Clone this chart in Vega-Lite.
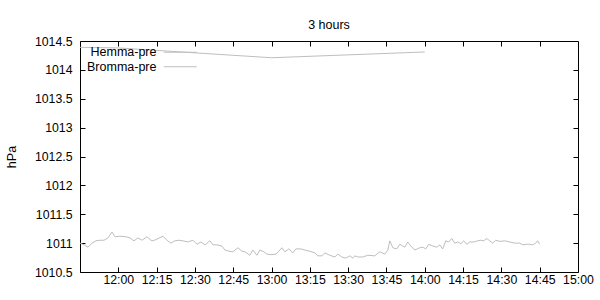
{
  "$schema": "https://vega.github.io/schema/vega-lite/v6.json",
  "width": 498,
  "height": 231,
  "autosize": "none",
  "padding": {"left": 80, "top": 41, "right": 22, "bottom": 28},
  "title": {"text": "3 hours", "fontSize": 12.5, "fontWeight": "normal", "color": "black", "font": "Liberation Sans", "anchor": "middle", "baseline": "alphabetic", "offset": -6},
  "config": {
    "font": "Liberation Sans",
    "view": {"stroke": "black", "strokeWidth": 1},
    "axis": {"domain": false, "grid": false, "tickColor": "black", "tickSize": -5, "tickWidth": 1, "labelFontSize": 12.3, "labelColor": "black", "labelFont": "Liberation Sans", "titleFontSize": 12.5, "titleFontWeight": "normal", "titleColor": "black", "titleFont": "Liberation Sans"}
  },
  "data": {
    "format": {"parse": {"t": "date:'%H:%M:%S'"}},
    "values": [
      {"s": "Hemma-pre", "t": "11:45:00", "v": 1014.39},
      {"s": "Hemma-pre", "t": "12:00:00", "v": 1014.38},
      {"s": "Hemma-pre", "t": "13:00:00", "v": 1014.21},
      {"s": "Hemma-pre", "t": "14:00:00", "v": 1014.31},
      {"s": "Bromma-pre", "t": "11:45:00", "v": 1011.00},
      {"s": "Bromma-pre", "t": "11:46:34", "v": 1010.97},
      {"s": "Bromma-pre", "t": "11:48:08", "v": 1010.93},
      {"s": "Bromma-pre", "t": "11:49:42", "v": 1011.00},
      {"s": "Bromma-pre", "t": "11:51:16", "v": 1011.04},
      {"s": "Bromma-pre", "t": "11:52:50", "v": 1011.05},
      {"s": "Bromma-pre", "t": "11:54:23", "v": 1011.05},
      {"s": "Bromma-pre", "t": "11:55:57", "v": 1011.09},
      {"s": "Bromma-pre", "t": "11:57:31", "v": 1011.19},
      {"s": "Bromma-pre", "t": "11:58:42", "v": 1011.11},
      {"s": "Bromma-pre", "t": "12:00:39", "v": 1011.12},
      {"s": "Bromma-pre", "t": "12:03:00", "v": 1011.11},
      {"s": "Bromma-pre", "t": "12:04:34", "v": 1011.09},
      {"s": "Bromma-pre", "t": "12:06:08", "v": 1011.04},
      {"s": "Bromma-pre", "t": "12:07:42", "v": 1011.09},
      {"s": "Bromma-pre", "t": "12:09:16", "v": 1011.05},
      {"s": "Bromma-pre", "t": "12:11:13", "v": 1011.11},
      {"s": "Bromma-pre", "t": "12:12:47", "v": 1011.05},
      {"s": "Bromma-pre", "t": "12:13:34", "v": 1011.04},
      {"s": "Bromma-pre", "t": "12:15:08", "v": 1011.07},
      {"s": "Bromma-pre", "t": "12:17:29", "v": 1011.12},
      {"s": "Bromma-pre", "t": "12:19:03", "v": 1011.05},
      {"s": "Bromma-pre", "t": "12:20:37", "v": 1011.00},
      {"s": "Bromma-pre", "t": "12:22:10", "v": 1011.04},
      {"s": "Bromma-pre", "t": "12:23:44", "v": 1011.05},
      {"s": "Bromma-pre", "t": "12:25:18", "v": 1011.04},
      {"s": "Bromma-pre", "t": "12:27:16", "v": 1011.02},
      {"s": "Bromma-pre", "t": "12:29:13", "v": 1011.05},
      {"s": "Bromma-pre", "t": "12:30:47", "v": 1010.98},
      {"s": "Bromma-pre", "t": "12:32:21", "v": 1011.02},
      {"s": "Bromma-pre", "t": "12:33:55", "v": 1010.97},
      {"s": "Bromma-pre", "t": "12:35:52", "v": 1011.04},
      {"s": "Bromma-pre", "t": "12:37:03", "v": 1010.97},
      {"s": "Bromma-pre", "t": "12:38:37", "v": 1010.97},
      {"s": "Bromma-pre", "t": "12:40:34", "v": 1010.95},
      {"s": "Bromma-pre", "t": "12:41:45", "v": 1010.88},
      {"s": "Bromma-pre", "t": "12:43:18", "v": 1010.86},
      {"s": "Bromma-pre", "t": "12:44:52", "v": 1010.85},
      {"s": "Bromma-pre", "t": "12:46:50", "v": 1010.92},
      {"s": "Bromma-pre", "t": "12:48:24", "v": 1010.86},
      {"s": "Bromma-pre", "t": "12:49:34", "v": 1010.85},
      {"s": "Bromma-pre", "t": "12:51:31", "v": 1010.79},
      {"s": "Bromma-pre", "t": "12:52:42", "v": 1010.88},
      {"s": "Bromma-pre", "t": "12:54:16", "v": 1010.79},
      {"s": "Bromma-pre", "t": "12:55:26", "v": 1010.88},
      {"s": "Bromma-pre", "t": "12:57:00", "v": 1010.85},
      {"s": "Bromma-pre", "t": "12:58:11", "v": 1010.81},
      {"s": "Bromma-pre", "t": "12:59:45", "v": 1010.80},
      {"s": "Bromma-pre", "t": "13:01:42", "v": 1010.81},
      {"s": "Bromma-pre", "t": "13:02:52", "v": 1010.86},
      {"s": "Bromma-pre", "t": "13:04:03", "v": 1010.92},
      {"s": "Bromma-pre", "t": "13:05:13", "v": 1010.85},
      {"s": "Bromma-pre", "t": "13:06:47", "v": 1010.90},
      {"s": "Bromma-pre", "t": "13:08:21", "v": 1010.83},
      {"s": "Bromma-pre", "t": "13:09:31", "v": 1010.90},
      {"s": "Bromma-pre", "t": "13:11:29", "v": 1010.90},
      {"s": "Bromma-pre", "t": "13:13:03", "v": 1010.88},
      {"s": "Bromma-pre", "t": "13:15:00", "v": 1010.86},
      {"s": "Bromma-pre", "t": "13:16:58", "v": 1010.83},
      {"s": "Bromma-pre", "t": "13:18:08", "v": 1010.78},
      {"s": "Bromma-pre", "t": "13:19:42", "v": 1010.78},
      {"s": "Bromma-pre", "t": "13:20:52", "v": 1010.83},
      {"s": "Bromma-pre", "t": "13:22:50", "v": 1010.79},
      {"s": "Bromma-pre", "t": "13:24:47", "v": 1010.76},
      {"s": "Bromma-pre", "t": "13:25:58", "v": 1010.81},
      {"s": "Bromma-pre", "t": "13:27:31", "v": 1010.76},
      {"s": "Bromma-pre", "t": "13:29:05", "v": 1010.74},
      {"s": "Bromma-pre", "t": "13:30:39", "v": 1010.78},
      {"s": "Bromma-pre", "t": "13:31:50", "v": 1010.74},
      {"s": "Bromma-pre", "t": "13:32:37", "v": 1010.78},
      {"s": "Bromma-pre", "t": "13:33:47", "v": 1010.76},
      {"s": "Bromma-pre", "t": "13:35:44", "v": 1010.76},
      {"s": "Bromma-pre", "t": "13:37:42", "v": 1010.79},
      {"s": "Bromma-pre", "t": "13:40:26", "v": 1010.78},
      {"s": "Bromma-pre", "t": "13:42:23", "v": 1010.85},
      {"s": "Bromma-pre", "t": "13:44:21", "v": 1010.81},
      {"s": "Bromma-pre", "t": "13:45:31", "v": 1010.88},
      {"s": "Bromma-pre", "t": "13:46:19", "v": 1011.04},
      {"s": "Bromma-pre", "t": "13:47:29", "v": 1010.92},
      {"s": "Bromma-pre", "t": "13:49:03", "v": 1010.90},
      {"s": "Bromma-pre", "t": "13:50:13", "v": 1010.98},
      {"s": "Bromma-pre", "t": "13:51:23", "v": 1010.95},
      {"s": "Bromma-pre", "t": "13:52:11", "v": 1010.93},
      {"s": "Bromma-pre", "t": "13:53:21", "v": 1011.02},
      {"s": "Bromma-pre", "t": "13:54:31", "v": 1010.95},
      {"s": "Bromma-pre", "t": "13:56:05", "v": 1010.88},
      {"s": "Bromma-pre", "t": "13:58:03", "v": 1010.92},
      {"s": "Bromma-pre", "t": "13:59:13", "v": 1010.93},
      {"s": "Bromma-pre", "t": "14:00:23", "v": 1010.90},
      {"s": "Bromma-pre", "t": "14:01:34", "v": 1010.98},
      {"s": "Bromma-pre", "t": "14:03:08", "v": 1010.95},
      {"s": "Bromma-pre", "t": "14:04:42", "v": 1010.93},
      {"s": "Bromma-pre", "t": "14:05:52", "v": 1010.97},
      {"s": "Bromma-pre", "t": "14:07:03", "v": 1010.90},
      {"s": "Bromma-pre", "t": "14:08:13", "v": 1011.04},
      {"s": "Bromma-pre", "t": "14:09:23", "v": 1011.02},
      {"s": "Bromma-pre", "t": "14:10:34", "v": 1011.08},
      {"s": "Bromma-pre", "t": "14:11:44", "v": 1011.00},
      {"s": "Bromma-pre", "t": "14:12:55", "v": 1011.02},
      {"s": "Bromma-pre", "t": "14:14:05", "v": 1010.99},
      {"s": "Bromma-pre", "t": "14:15:16", "v": 1011.04},
      {"s": "Bromma-pre", "t": "14:16:26", "v": 1010.98},
      {"s": "Bromma-pre", "t": "14:17:37", "v": 1011.02},
      {"s": "Bromma-pre", "t": "14:19:11", "v": 1011.02},
      {"s": "Bromma-pre", "t": "14:20:44", "v": 1011.04},
      {"s": "Bromma-pre", "t": "14:21:55", "v": 1011.05},
      {"s": "Bromma-pre", "t": "14:23:05", "v": 1011.04},
      {"s": "Bromma-pre", "t": "14:24:16", "v": 1011.08},
      {"s": "Bromma-pre", "t": "14:25:26", "v": 1011.04},
      {"s": "Bromma-pre", "t": "14:26:37", "v": 1011.00},
      {"s": "Bromma-pre", "t": "14:27:47", "v": 1011.05},
      {"s": "Bromma-pre", "t": "14:29:21", "v": 1011.03},
      {"s": "Bromma-pre", "t": "14:31:18", "v": 1011.04},
      {"s": "Bromma-pre", "t": "14:33:16", "v": 1011.02},
      {"s": "Bromma-pre", "t": "14:35:13", "v": 1011.00},
      {"s": "Bromma-pre", "t": "14:37:11", "v": 1011.00},
      {"s": "Bromma-pre", "t": "14:38:21", "v": 1010.97},
      {"s": "Bromma-pre", "t": "14:39:55", "v": 1010.98},
      {"s": "Bromma-pre", "t": "14:41:05", "v": 1010.98},
      {"s": "Bromma-pre", "t": "14:42:16", "v": 1010.97},
      {"s": "Bromma-pre", "t": "14:43:26", "v": 1011.00},
      {"s": "Bromma-pre", "t": "14:44:13", "v": 1011.04},
      {"s": "Bromma-pre", "t": "14:45:00", "v": 1010.98}
    ]
  },
  "layer": [
    {
      "mark": {"type": "line", "strokeWidth": 1, "clip": true},
      "encoding": {
        "x": {
          "field": "t", "type": "temporal",
          "scale": {"domain": [{"year": 1900, "month": 1, "date": 1, "hours": 11, "minutes": 45}, {"year": 1900, "month": 1, "date": 1, "hours": 15, "minutes": 0}]},
          "axis": {
            "orient": "bottom", "title": null, "format": "%H:%M", "labelPadding": 6, "labelFlush": false, "labelOverlap": false,
            "values": [
              {"year": 1900, "month": 1, "date": 1, "hours": 12, "minutes": 0},
              {"year": 1900, "month": 1, "date": 1, "hours": 12, "minutes": 15},
              {"year": 1900, "month": 1, "date": 1, "hours": 12, "minutes": 30},
              {"year": 1900, "month": 1, "date": 1, "hours": 12, "minutes": 45},
              {"year": 1900, "month": 1, "date": 1, "hours": 13, "minutes": 0},
              {"year": 1900, "month": 1, "date": 1, "hours": 13, "minutes": 15},
              {"year": 1900, "month": 1, "date": 1, "hours": 13, "minutes": 30},
              {"year": 1900, "month": 1, "date": 1, "hours": 13, "minutes": 45},
              {"year": 1900, "month": 1, "date": 1, "hours": 14, "minutes": 0},
              {"year": 1900, "month": 1, "date": 1, "hours": 14, "minutes": 15},
              {"year": 1900, "month": 1, "date": 1, "hours": 14, "minutes": 30},
              {"year": 1900, "month": 1, "date": 1, "hours": 14, "minutes": 45},
              {"year": 1900, "month": 1, "date": 1, "hours": 15, "minutes": 0}
            ]
          }
        },
        "y": {
          "field": "v", "type": "quantitative",
          "scale": {"domain": [1010.5, 1014.5], "nice": false, "zero": false},
          "axis": {"orient": "left", "title": "hPa", "titlePadding": 16, "format": "~g", "labelPadding": 13, "labelFlush": false, "labelOverlap": false,
            "values": [1010.5, 1011, 1011.5, 1012, 1012.5, 1013, 1013.5, 1014, 1014.5]}
        },
        "color": {
          "field": "s", "type": "nominal",
          "scale": {"domain": ["Hemma-pre", "Bromma-pre"], "range": ["#bebebe", "#bebebe"]},
          "legend": {"title": null, "orient": "none", "legendX": 94, "legendY": 5, "labelAlign": "right", "labelOffset": -30, "symbolType": "M-4,0H4", "symbolSize": 68, "symbolStrokeWidth": 1, "symbolFillColor": "transparent", "labelFontSize": 12.5, "labelColor": "black", "labelFont": "Liberation Sans", "rowPadding": 1.5, "padding": 0}
        }
      }
    },
    {
      "mark": {"type": "line", "opacity": 0},
      "encoding": {
        "x": {"field": "t", "type": "temporal",
          "axis": {"orient": "top", "labels": false, "title": null,
            "values": [
              {"year": 1900, "month": 1, "date": 1, "hours": 12, "minutes": 0},
              {"year": 1900, "month": 1, "date": 1, "hours": 12, "minutes": 15},
              {"year": 1900, "month": 1, "date": 1, "hours": 12, "minutes": 30},
              {"year": 1900, "month": 1, "date": 1, "hours": 12, "minutes": 45},
              {"year": 1900, "month": 1, "date": 1, "hours": 13, "minutes": 0},
              {"year": 1900, "month": 1, "date": 1, "hours": 13, "minutes": 15},
              {"year": 1900, "month": 1, "date": 1, "hours": 13, "minutes": 30},
              {"year": 1900, "month": 1, "date": 1, "hours": 13, "minutes": 45},
              {"year": 1900, "month": 1, "date": 1, "hours": 14, "minutes": 0},
              {"year": 1900, "month": 1, "date": 1, "hours": 14, "minutes": 15},
              {"year": 1900, "month": 1, "date": 1, "hours": 14, "minutes": 30},
              {"year": 1900, "month": 1, "date": 1, "hours": 14, "minutes": 45}
            ]}},
        "y": {"field": "v", "type": "quantitative",
          "axis": {"orient": "right", "labels": false, "title": null,
            "values": [1011, 1011.5, 1012, 1012.5, 1013, 1013.5, 1014]}},
        "detail": {"field": "s"}
      }
    }
  ],
  "resolve": {"axis": {"x": "independent", "y": "independent"}}
}
